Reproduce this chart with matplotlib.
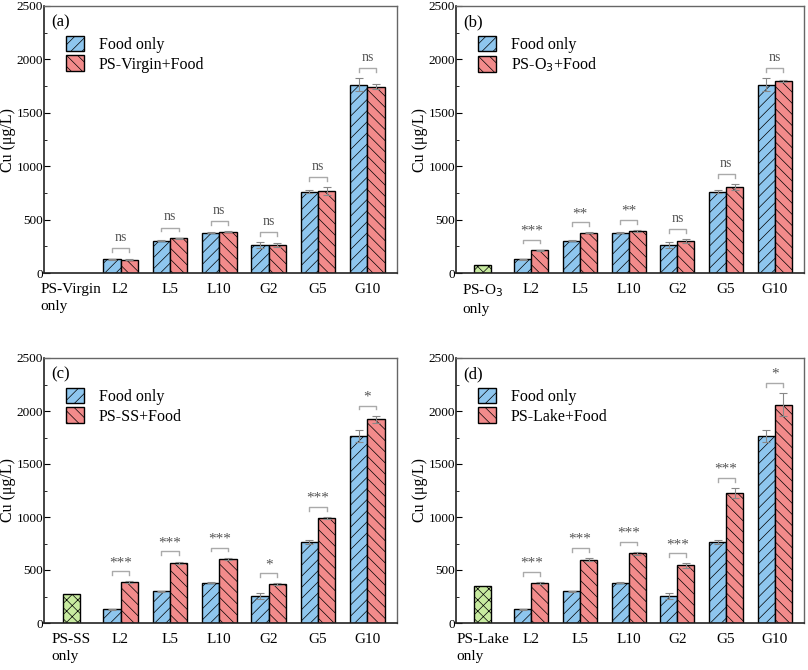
import numpy as np
import matplotlib.pyplot as plt
from matplotlib.ticker import MultipleLocator

plt.rcParams['font.family'] = ['Liberation Serif', 'DejaVu Serif']
plt.rcParams['hatch.linewidth'] = 0.5
plt.rcParams['hatch.color'] = '#555555'

# ----------------------------------------
# data
# ----------------------------------------
groups = ['L2', 'L5', 'L10', 'G2', 'G5', 'G10']
food_only = [130, 300, 378, 258, 763, 1763]
food_err = [5, 5, 5, 28, 18, 60]

panel_tags = ['(a)', '(b)', '(c)', '(d)']
ps_names = ['PS-Virgin', 'PS-O$_3$', 'PS-SS', 'PS-Lake']
ps_only = [0, 78, 270, 350]

ps_food = [
	[125, 325, 385, 262, 770, 1745],
	[212, 375, 395, 300, 805, 1800],
	[385, 570, 605, 365, 990, 1920],
	[378, 598, 658, 543, 1228, 2060],
]
ps_food_err = [
	[5, 5, 5, 20, 35, 20],
	[5, 5, 8, 15, 25, 8],
	[8, 10, 10, 10, 8, 35],
	[8, 15, 15, 20, 45, 110],
]
signif = [
	['ns', 'ns', 'ns', 'ns', 'ns', 'ns'],
	['***', '**', '**', 'ns', 'ns', 'ns'],
	['***', '***', '***', '*', '***', '*'],
	['***', '***', '***', '***', '***', '*'],
]

blue = '#8EC6EE'
red = '#F28B8B'
green = '#C8EBA0'
width = 0.35

fig = plt.figure(figsize=(8.08, 6.70), dpi=100)
W, H = 808, 670
# axes boxes in pixels: left, top, right, bottom
boxes = [(44, 6, 397, 273), (456, 6, 804, 273), (44, 358, 397, 623), (456, 358, 804, 623)]

for p in range(4):
	l, t, r, b = boxes[p]
	ax = fig.add_axes([l / W, 1 - b / H, (r - l) / W, (b - t) / H])
	x = np.arange(1, len(groups) + 1)

	ax.bar(x - width / 2, food_only, width, color=blue, edgecolor='black', linewidth=1.0,
		hatch='///', label='Food only', zorder=2)
	ax.bar(x + width / 2, ps_food[p], width, color=red, edgecolor='black', linewidth=1.0,
		hatch='\\\\\\', label=ps_names[p] + '+Food', zorder=2)
	ax.errorbar(x - width / 2, food_only, yerr=food_err, fmt='none', ecolor='#888888',
		elinewidth=0.8, capsize=3, capthick=0.8, zorder=3)
	ax.errorbar(x + width / 2, ps_food[p], yerr=ps_food_err[p], fmt='none', ecolor='#888888',
		elinewidth=0.8, capsize=3, capthick=0.8, zorder=3)
	if ps_only[p] > 0:
		ax.bar([0], [ps_only[p]], width, color=green, edgecolor='black', linewidth=1.0,
			hatch='xxx', zorder=2)

	# significance brackets
	for i in range(len(groups)):
		top = max(food_only[i] + food_err[i], ps_food[p][i] + ps_food_err[p][i])
		yb = top + 95
		x0, x1 = x[i] - width / 2, x[i] + width / 2
		ax.plot([x0, x0, x1, x1], [yb - 35, yb, yb, yb - 35], color='#aaaaaa', lw=1.0, zorder=3)
		sy = yb + 40 if signif[p][i] == 'ns' else yb + 20
		ax.text(x[i], sy, signif[p][i], ha='center', va='bottom',
			fontsize=10 if signif[p][i] == 'ns' else 11, color='#555555')

	ax.set_xlim(-0.55, 6.6)
	ax.set_ylim(0, 2500)
	ax.yaxis.set_major_locator(MultipleLocator(500))
	ax.yaxis.set_minor_locator(MultipleLocator(250))
	ax.tick_params(axis='y', which='major', direction='in', length=4, labelsize=9.5, pad=0.5)
	ax.tick_params(axis='y', which='minor', direction='in', length=2.5)
	ax.tick_params(axis='x', length=0, labelsize=11, pad=7)
	ax.set_xticks(np.arange(0, len(groups) + 1))
	ax.set_xticklabels([ps_names[p] + '\nonly'] + groups, linespacing=1.4, va='top')
	ax.get_xticklabels()[0].set_multialignment('left')
	for s in ['top', 'right']:
		ax.spines[s].set_color('#666666')
		ax.spines[s].set_linewidth(1.0)
	for s in ['left', 'bottom']:
		ax.spines[s].set_color('#222222')
		ax.spines[s].set_linewidth(1.2)
	ax.set_ylabel('Cu (μg/L)', fontsize=11.5)
	ax.yaxis.set_label_coords(-27.5 / (r - l), 0.5)
	ax.text(7 / (r - l), 1 - 8 / (b - t), panel_tags[p], transform=ax.transAxes,
		ha='left', va='top', fontsize=12)
	ax.legend(loc='upper left', bbox_to_anchor=(22 / (r - l), 1 - 30 / (b - t)), frameon=False,
		fontsize=11.5, handlelength=1.15, handleheight=1.1, handletextpad=0.9, labelspacing=0.15,
		borderpad=0, borderaxespad=0)

plt.savefig('out.png', dpi=100)
